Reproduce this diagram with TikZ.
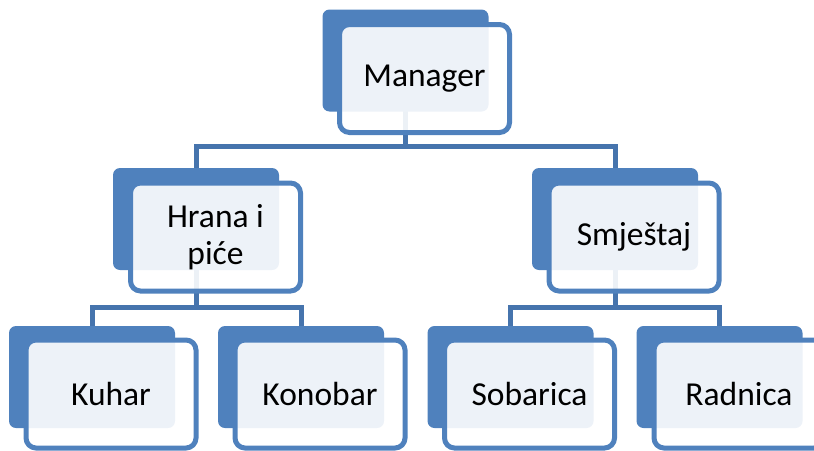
\documentclass[tikz,border=0pt]{standalone}
\usepackage{fontspec}
\setmainfont{Carlito}
\usetikzlibrary{backgrounds}
\definecolor{boxblue}{HTML}{4F81BD}
\definecolor{lineblue}{HTML}{4674AD}

\begin{document}
\begin{tikzpicture}[x=1pt, y=-1pt,
    back/.style={fill=boxblue, rounded corners=7pt, minimum width=166pt, minimum height=102pt, inner sep=0pt},
    front/.style={draw=boxblue, line width=5pt, rounded corners=10pt, fill=white, fill opacity=0.9, text opacity=1,
        minimum width=170pt, minimum height=108pt, inner sep=0pt, align=center, font=\fontsize{33.5}{37}\selectfont},
    conn/.style={draw=lineblue, line width=5pt}]
    \useasboundingbox (0,0) rectangle (814,450);
    \clip (0,0) rectangle (814,450);

    % top
    \node[back] at (405.5,60.5) (manager) {};
    \node[front] at (424.5,78.5) (manager_t) {Manager};

    % second row
    \node[back] at (196,219) (hrana) {};
    \node[front] at (215.5,237) (hrana_t) {Hrana i\\ piće};
    \node[back] at (615,219) (smjestaj) {};
    \node[front] at (634,237) (smjestaj_t) {Smještaj};

    % bottom row
    \node[back] at (92,377) (kuhar) {};
    \node[front] at (111,394) (kuhar_t) {Kuhar};
    \node[back] at (301,377) (konobar) {};
    \node[front] at (320,394) (konobar_t) {Konobar};
    \node[back] at (510.5,377) (sobarica) {};
    \node[front] at (529.5,394) (sobarica_t) {Sobarica};
    \node[back] at (719.5,377) (radnica) {};
    \node[front] at (739,394) (radnica_t) {Radnica};

    \begin{scope}[on background layer]
    \draw[conn] (manager.center) -- ++(0,85.5) -| (hrana.center);
    \draw[conn] (manager.center) -- ++(0,85.5) -| (smjestaj.center);
    \draw[conn] (hrana.center) -- ++(0,88) -| (kuhar.center);
    \draw[conn] (hrana.center) -- ++(0,88) -| (konobar.center);
    \draw[conn] (smjestaj.center) -- ++(0,88) -| (sobarica.center);
    \draw[conn] (smjestaj.center) -- ++(0,88) -| (radnica.center);
    \end{scope}
\end{tikzpicture}
\end{document}
